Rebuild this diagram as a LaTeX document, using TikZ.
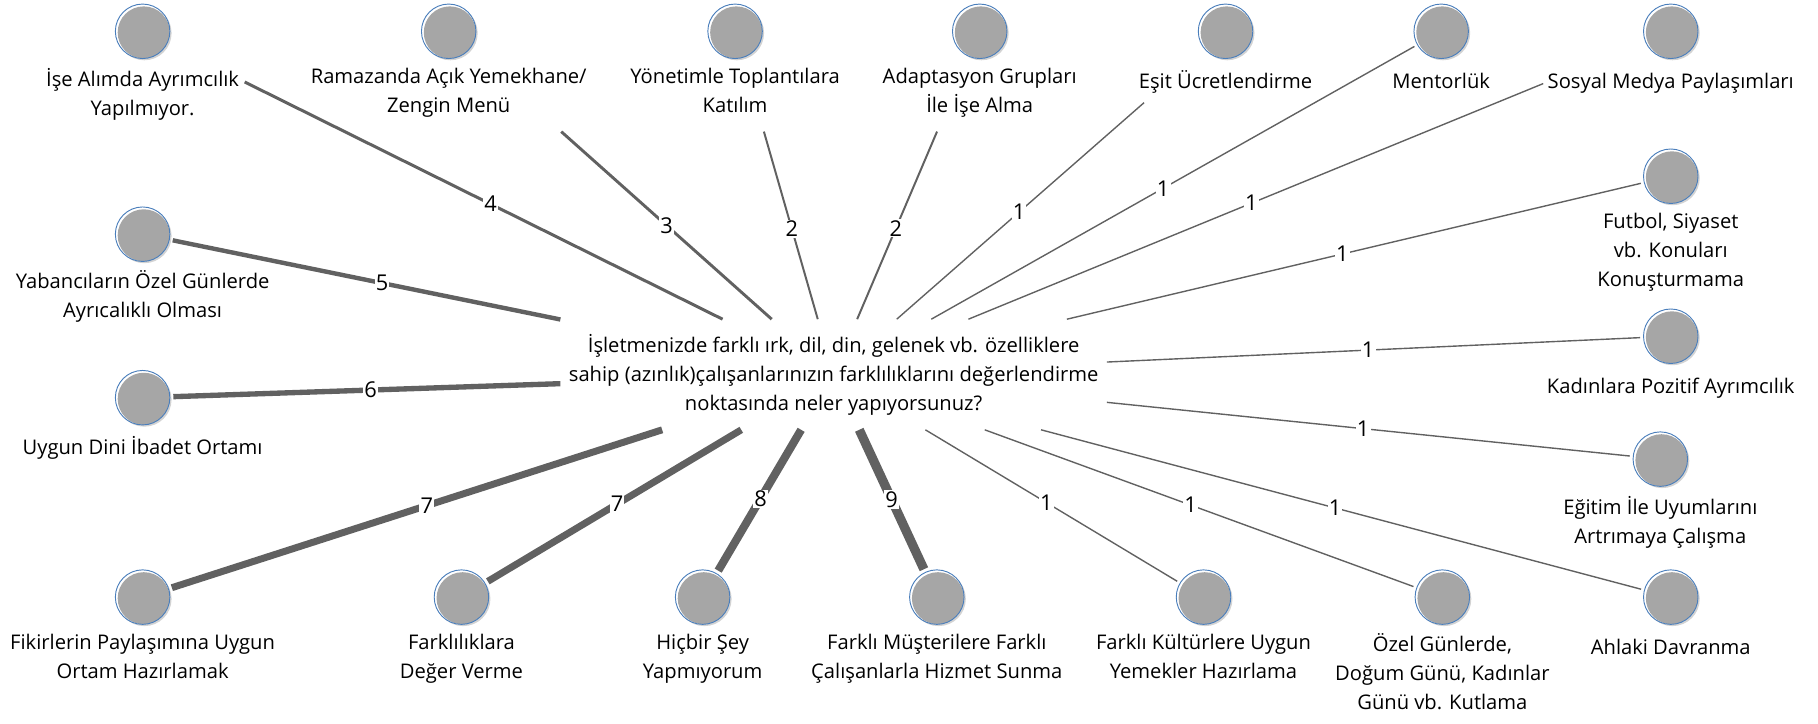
\documentclass[tikz,border=0pt]{standalone}
\usepackage{fontspec}
\setmainfont{Open Sans}
\usepackage{xcolor}
\usepackage{tikz}
\usetikzlibrary{positioning, shadows, calc}

\definecolor{linkgray}{HTML}{616161}
\definecolor{ballgray}{HTML}{A6A6A6}
\definecolor{ringblue}{HTML}{4A7EBB}

\begin{document}
\begin{tikzpicture}[x=1pt, y=-1pt,
    font=\fontsize{17.4}{25}\selectfont,
    ball/.style={circle, minimum size=47pt, inner sep=0pt, outer sep=3pt,
        draw=ringblue, line width=0.8pt, fill=white,
        drop shadow={shadow xshift=1.5pt, shadow yshift=-1.5pt, opacity=0.35},
        path picture={\fill[ballgray] ($(path picture bounding box.center)+(1pt,-1pt)$) circle (22.5pt);}},
    itemtext/.style={align=center, inner xsep=4pt, inner ysep=5pt,
        execute at begin node=\strut, execute at end node=\strut, below=0pt of #1},
    link/.style={draw=linkgray, line width=#1},
    num/.style={fill=white, inner sep=1pt, font=\fontsize{18.8}{22}\selectfont}]
    \useasboundingbox (0,0) rectangle (1568,624);

    % Question
    \node[align=center, minimum width=471pt, minimum height=95pt, inner sep=0pt] (q) at (719,323)
        {İşletmenizde farklı ırk, dil, din, gelenek vb. özelliklere\\
         sahip (azınlık)çalışanlarınızın farklılıklarını değerlendirme\\
         noktasında neler yapıyorsunuz?};

    % Top row
    \node[ball] (c1) at (123,27) {};
    \node[ball] (c2) at (387,27) {};
    \node[ball] (c3) at (634,27) {};
    \node[ball] (c4) at (845,27) {};
    \node[ball] (c5) at (1057,27) {};
    \node[ball] (c6) at (1243,27) {};
    \node[ball] (c7) at (1441,27) {};

    % Right side
    \node[ball] (c8) at (1441,152) {};
    \node[ball] (c9) at (1441,290) {};
    \node[ball] (c10) at (1432,396) {};
    \node[ball] (c11) at (1441,515) {};

    % Bottom row
    \node[ball] (c12) at (1244,515) {};
    \node[ball] (c13) at (1038,515) {};
    \node[ball] (c14) at (808,515) {};
    \node[ball] (c15) at (606,515) {};
    \node[ball] (c16) at (398,515) {};
    \node[ball] (c17) at (123,515) {};

    % Left side
    \node[ball] (c18) at (123,202) {};
    \node[ball] (c19) at (123,343) {};

    % Answers
    \node[itemtext=c1] (l1) {İşe Alımda Ayrımcılık\\Yapılmıyor.};
    \node[itemtext=c2] (l2) {Ramazanda Açık Yemekhane/\\Zengin Menü};
    \node[itemtext=c3] (l3) {Yönetimle Toplantılara\\Katılım};
    \node[itemtext=c4] (l4) {Adaptasyon Grupları\\İle İşe Alma};
    \node[itemtext=c5] (l5) {Eşit Ücretlendirme};
    \node[itemtext=c6] (l6) {Mentorlük};
    \node[itemtext=c7] (l7) {Sosyal Medya Paylaşımları};
    \node[itemtext=c8] (l8) {Futbol, Siyaset\\vb. Konuları\\Konuşturmama};
    \node[itemtext=c9] (l9) {Kadınlara Pozitif Ayrımcılık};
    \node[itemtext=c10] (l10) {Eğitim İle Uyumlarını\\Artrımaya Çalışma};
    \node[itemtext=c11] (l11) {Ahlaki Davranma};
    \node[itemtext=c12] (l12) {Özel Günlerde,\\Doğum Günü, Kadınlar\\Günü vb. Kutlama};
    \node[itemtext=c13] (l13) {Farklı Kültürlere Uygun\\Yemekler Hazırlama};
    \node[itemtext=c14] (l14) {Farklı Müşterilere Farklı\\Çalışanlarla Hizmet Sunma};
    \node[itemtext=c15] (l15) {Hiçbir Şey\\Yapmıyorum};
    \node[itemtext=c16] (l16) {Farklılıklara\\Değer Verme};
    \node[itemtext=c17] (l17) {Fikirlerin Paylaşımına Uygun\\Ortam Hazırlamak};
    \node[itemtext=c18] (l18) {Yabancıların Özel Günlerde\\Ayrıcalıklı Olması};
    \node[itemtext=c19] (l19) {Uygun Dini İbadet Ortamı};

    % Links, width by count (top ones stop at the answer text)
    \draw[link=2.6pt, shorten >=71.8pt] (q) -- (c1) node[num, pos=0.42] {4};
    \draw[link=2.5pt, shorten >=103.5pt] (q) -- (c2) node[num, pos=0.35] {3};
    \draw[link=1.7pt, shorten >=63.5pt] (q) -- (c3) node[num, pos=0.35] {2};
    \draw[link=1.7pt, shorten >=67.5pt] (q) -- (c4) node[num, pos=0.35] {2};
    \draw[link=1.2pt, shorten >=66.9pt] (q) -- (c5) node[num, pos=0.40] {1};
    \draw[link=1.2pt] (q) -- (c6) node[num, pos=0.48] {1};
    \draw[link=1.2pt, shorten >=92.4pt] (q) -- (c7) node[num, pos=0.42] {1};
    \draw[link=1.2pt] (q) -- (c8) node[num, pos=0.48] {1};
    \draw[link=1.2pt] (q) -- (c9) node[num, pos=0.49] {1};
    \draw[link=1.2pt] (q) -- (c10) node[num, pos=0.49] {1};
    \draw[link=1.2pt] (q) -- (c11) node[num, pos=0.49] {1};
    \draw[link=1.2pt] (q) -- (c12) node[num, pos=0.48] {1};
    \draw[link=1.2pt] (q) -- (c13) node[num, pos=0.48] {1};
    \draw[link=8pt] (q) -- (c14) node[num, pos=0.50] {9};
    \draw[link=7pt] (q) -- (c15) node[num, pos=0.49] {8};
    \draw[link=6pt] (q) -- (c16) node[num, pos=0.49] {7};
    \draw[link=6pt] (q) -- (c17) node[num, pos=0.48] {7};
    \draw[link=3.8pt] (q) -- (c18) node[num, pos=0.46] {5};
    \draw[link=4.6pt] (q) -- (c19) node[num, pos=0.49] {6};
\end{tikzpicture}
\end{document}
